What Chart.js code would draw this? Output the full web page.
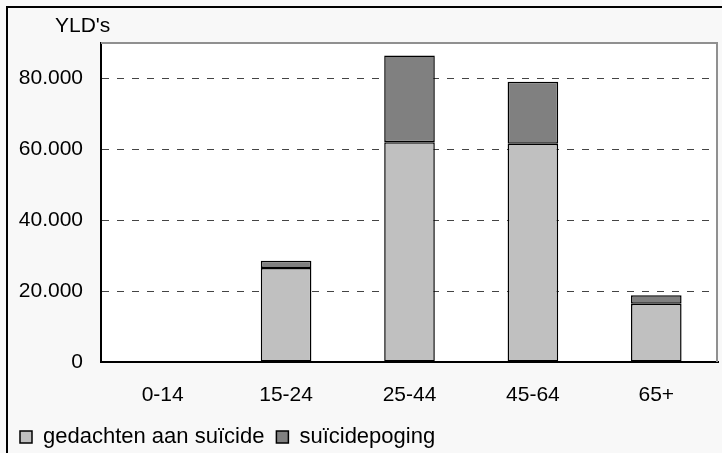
<!DOCTYPE html>
<html>
<head>
<meta charset="utf-8">
<script src="https://cdn.jsdelivr.net/npm/chart.js@4/dist/chart.umd.min.js"></script>
<style>
  html, body { margin: 0; padding: 0; background: #f8f8f8; }
  #wrap { width: 722px; height: 453px; position: relative; }
</style>
</head>
<body>
<div id="wrap"><canvas id="yldChart"></canvas></div>
<script>
// Leeftijdsgroepen en YLD's (af te lezen uit de figuur)
const leeftijden = ['0-14', '15-24', '25-44', '45-64', '65+'];
const gedachten = [0, 26500, 62000, 61600, 16400];
const pogingen = [0, 2100, 24500, 17500, 2400];
const yTicks = [0, 20000, 40000, 60000, 80000];

const lettertype = '"Liberation Sans", Arial, sans-serif';

// Achtergrond van plotgebied, kader en titel "YLD's"
const kaderPlugin = {
    id: 'kader',
    beforeDraw(chart) {
        const { ctx, chartArea: a } = chart;
        ctx.save();
        ctx.fillStyle = '#f8f8f8';
        ctx.fillRect(0, 0, chart.width, chart.height);
        ctx.fillStyle = '#ffffff';
        ctx.fillRect(a.left, a.top, a.right - a.left, a.bottom - a.top);
        ctx.restore();
    },
    afterDraw(chart) {
        const { ctx, chartArea: a } = chart;
        ctx.save();
        ctx.strokeStyle = '#909090';
        ctx.lineWidth = 2;
        ctx.beginPath();
        ctx.moveTo(a.left, a.top);
        ctx.lineTo(a.right - 1, a.top);
        ctx.lineTo(a.right - 1, a.bottom);
        ctx.stroke();
        // buitenkader: alleen boven en links zichtbaar
        ctx.strokeStyle = '#000000';
        ctx.lineWidth = 2;
        ctx.beginPath();
        ctx.moveTo(7, chart.height);
        ctx.lineTo(7, 7);
        ctx.lineTo(chart.width, 7);
        ctx.stroke();
        ctx.fillStyle = '#000000';
        ctx.font = '21px ' + lettertype;
        ctx.textAlign = 'left';
        ctx.textBaseline = 'middle';
        ctx.fillText("YLD's", 55, 26);
        ctx.restore();
    }
};

try {
    const ctx = document.getElementById('yldChart').getContext('2d');
    new Chart(ctx, {
        type: 'bar',
        data: {
            labels: leeftijden,
            datasets: [{
                label: 'gedachten aan suïcide',
                data: gedachten,
                backgroundColor: '#c0c0c0',
                borderColor: '#000000',
                borderWidth: 1.5,
                borderSkipped: false,
                barPercentage: 0.41,
                categoryPercentage: 1
            }, {
                label: 'suïcidepoging',
                data: pogingen,
                backgroundColor: '#808080',
                borderColor: '#000000',
                borderWidth: 1.5,
                borderSkipped: false,
                barPercentage: 0.41,
                categoryPercentage: 1
            }]
        },
        options: {
            responsive: true,
            maintainAspectRatio: false,
            animation: false,
            layout: { padding: { top: 43, left: 8, right: 4, bottom: -5 } },
            scales: {
                x: {
                    stacked: true,
                    grid: { display: false, drawTicks: false },
                    border: { color: '#000000', width: 2 },
                    ticks: {
                        color: '#000000',
                        padding: 21,
                        font: { family: lettertype, size: 21 }
                    },
                    afterFit: s => { s.height = 52; }
                },
                y: {
                    stacked: true,
                    min: 0,
                    max: 90000,
                    afterBuildTicks: s => { s.ticks = yTicks.map(v => ({ value: v })); },
                    grid: {
                        color: ctx => ctx.tick && ctx.tick.value === 0 ? 'rgba(0,0,0,0)' : '#444444',
                        lineWidth: 1,
                        drawTicks: false
                    },
                    border: { color: '#000000', width: 2, dash: [7, 8] },
                    ticks: {
                        color: '#000000',
                        padding: 18,
                        font: { family: lettertype, size: 21 },
                        callback: v => v.toLocaleString('nl-NL')
                    },
                    afterFit: s => { s.width = 93; }
                }
            },
            plugins: {
                legend: {
                    position: 'bottom',
                    align: 'start',
                    labels: {
                        color: '#000000',
                        boxWidth: 12,
                        boxHeight: 12,
                        padding: 12,
                        font: { family: lettertype, size: 22 }
                    }
                },
                tooltip: { enabled: false }
            }
        },
        plugins: [kaderPlugin]
    });
} catch (error) {
    console.error('Fout bij het maken van de grafiek:', error);
}
</script>
</body>
</html>
